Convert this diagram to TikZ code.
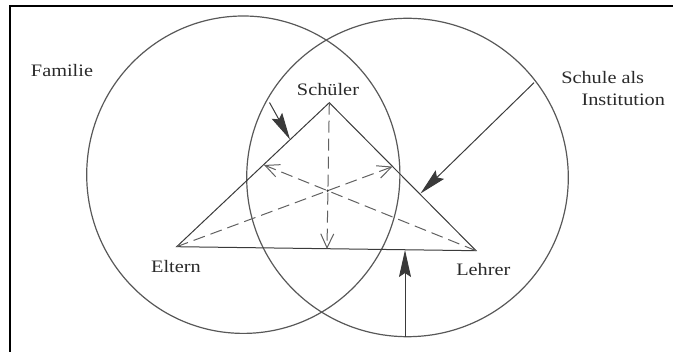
\documentclass[tikz,border=0pt]{standalone}
\usepackage{fontspec}
\setmainfont{Liberation Serif}[FakeStretch=1.16]
\usetikzlibrary{arrows.meta}
\definecolor{ink}{HTML}{3A3A3A}
\definecolor{txt}{HTML}{2A2A2A}
\begin{document}
\begin{tikzpicture}[x=1pt,y=-1pt,
  lbl/.style={inner sep=0pt,text=txt,font=\fontsize{17.5}{20}\selectfont},
  ring/.style={draw=ink!85,line width=1.2pt},
  side/.style={draw=ink,line width=1pt},
  median/.style={draw=ink!80,line width=1pt,dash pattern=on 12pt off 6pt,-{Straight Barb[length=14pt,width=13pt]}},
  force/.style={draw=ink,line width=1pt,-{Stealth[length=27pt,width=12pt,inset=4pt]}},
  frameline/.style={draw=black,line width=1.1pt}]
\useasboundingbox (0,0) rectangle (673,352);
% frame (top and left edges)
\coordinate (fr1) at (10,352);
\coordinate (fr2) at (10,6);
\coordinate (fr3) at (673,6);
\draw[frameline] (fr1) -- (fr2) -- (fr3);
% circles
\draw[ring] (243.3,174.7) ellipse [x radius=156.6pt, y radius=158.7pt];
\draw[ring] (407.5,177.5) ellipse [x radius=160.8pt, y radius=159.2pt];
% triangle
\coordinate (S) at (329.3,102.7);
\coordinate (E) at (176.7,246.7);
\coordinate (L) at (476,250.7);
\coordinate (C) at (327.7,190.7);
\coordinate (M) at (327,249);
\coordinate (P) at (264,165);
\coordinate (Q) at (392.6,166.6);
\draw[side] (S) -- (E) -- (L) -- cycle;
% dashed lines
\draw[median] (S) -- (M);
\draw[median] (E) -- (Q);
\draw[median] (L) -- (P);
\fill[ink] (C) circle (1.3pt);
% thick arrows
\coordinate (a1s) at (269.5,102.5);
\coordinate (a1e) at (290,139.5);
\coordinate (a2s) at (534,82.7);
\coordinate (a2e) at (420.5,193.5);
\coordinate (a3s) at (405,336.7);
\coordinate (a3e) at (405,250);
\draw[force] (a1s) -- (a1e);
\draw[force] (a2s) -- (a2e);
\draw[force] (a3s) -- (a3e);
% labels
\node[lbl] (familie) at (62,71) {Familie};
\node[lbl] (schueler) at (328,89.3) {Schüler};
\node[lbl] (schule) at (602.7,77.3) {Schule als};
\node[lbl] (inst) at (623.3,100) {Institution};
\node[lbl] (eltern) at (176,266.7) {Eltern};
\node[lbl] (lehrer) at (483.3,270) {Lehrer};
\end{tikzpicture}
\end{document}
